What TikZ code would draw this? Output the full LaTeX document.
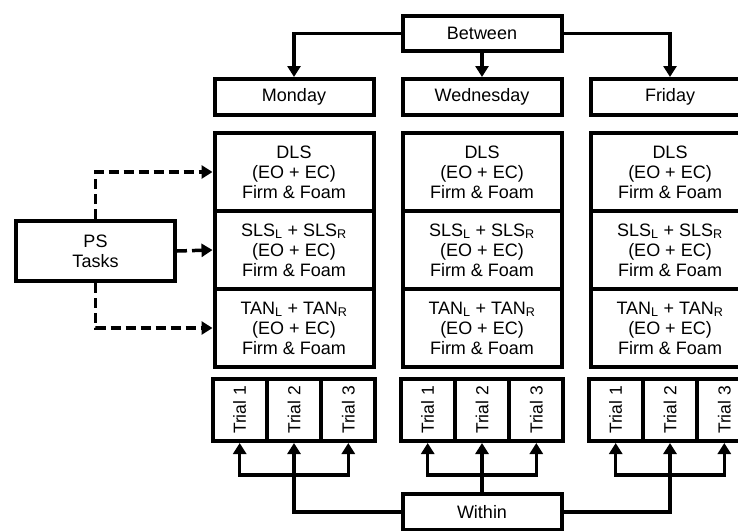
\documentclass[tikz,border=0pt]{standalone}
\usepackage{fontspec}
\setmainfont{Liberation Sans}
\usetikzlibrary{arrows.meta}

\begin{document}
\begin{tikzpicture}[x=1pt,y=-1pt]
        \tikzstyle{box} = [draw,rectangle,line width=4pt,inner sep=0pt,minimum width=159pt,align=center,font=\fontsize{18}{20}\selectfont]
        \tikzstyle{cell} = [box,minimum height=78pt]
        \tikzstyle{trial} = [box,minimum width=54.3pt,minimum height=62pt,font=\fontsize{17.5}{20}\selectfont]
        \tikzstyle{arrow} = [line width=3.5pt,-{Triangle[length=11pt,width=13pt]}]
        \tikzstyle{dasharrow} = [arrow,dash pattern=on 10pt off 5pt]
        \tikzstyle{link} = [line width=3.5pt]
        \clip (0,0) rectangle (738,530);
        \node[box,minimum height=35pt] (between) at (482,33.5) {Between};
        \node[box,minimum height=36pt] (within) at (482,512) {Within};
        \node[box,minimum height=60pt] (ps) at (95.5,251) {PS\\Tasks};
        \foreach \c/\x/\day in {mon/294/Monday,wed/482/Wednesday,fri/670/Friday}{
          \node[box,minimum height=36pt] (\c) at (\x,97) {\day};
          \node[cell] (\c-1) at (\x,172) {DLS\\(EO + EC)\\Firm \& Foam};
          \node[cell] (\c-2) at (\x,250) {SLS\textsubscript{L} + SLS\textsubscript{R}\\(EO + EC)\\Firm \& Foam};
          \node[cell] (\c-3) at (\x,328) {TAN\textsubscript{L} + TAN\textsubscript{R}\\(EO + EC)\\Firm \& Foam};
          \foreach \t in {1,2,3}
            \node[trial] (\c-t\t) at (\x+54.3*\t-108.6,410) {\rotatebox{90}{Trial \t}};
          \coordinate (\c-br) at (\x,475);
          \draw[arrow] (\c-br) -| (\c-t1.south);
          \draw[arrow] (\c-br) -- (\c-t2.south);
          \draw[arrow] (\c-br) -| (\c-t3.south);
        }
        \draw[arrow] (between.west) -| (mon.north);
        \draw[arrow] (between.south) -- (wed.north);
        \draw[arrow] (between.east) -| (fri.north);
        \draw[link] (within.west) -| (mon-br);
        \draw[link] (within.north) -- (wed-br);
        \draw[link] (within.east) -| (fri-br);
        \draw[dasharrow] (ps.north) |- (mon-1.west);
        \draw[dasharrow] (ps.east) -- (mon-2.west);
        \draw[dasharrow] (ps.south) |- (mon-3.west);
\end{tikzpicture}
\end{document}
